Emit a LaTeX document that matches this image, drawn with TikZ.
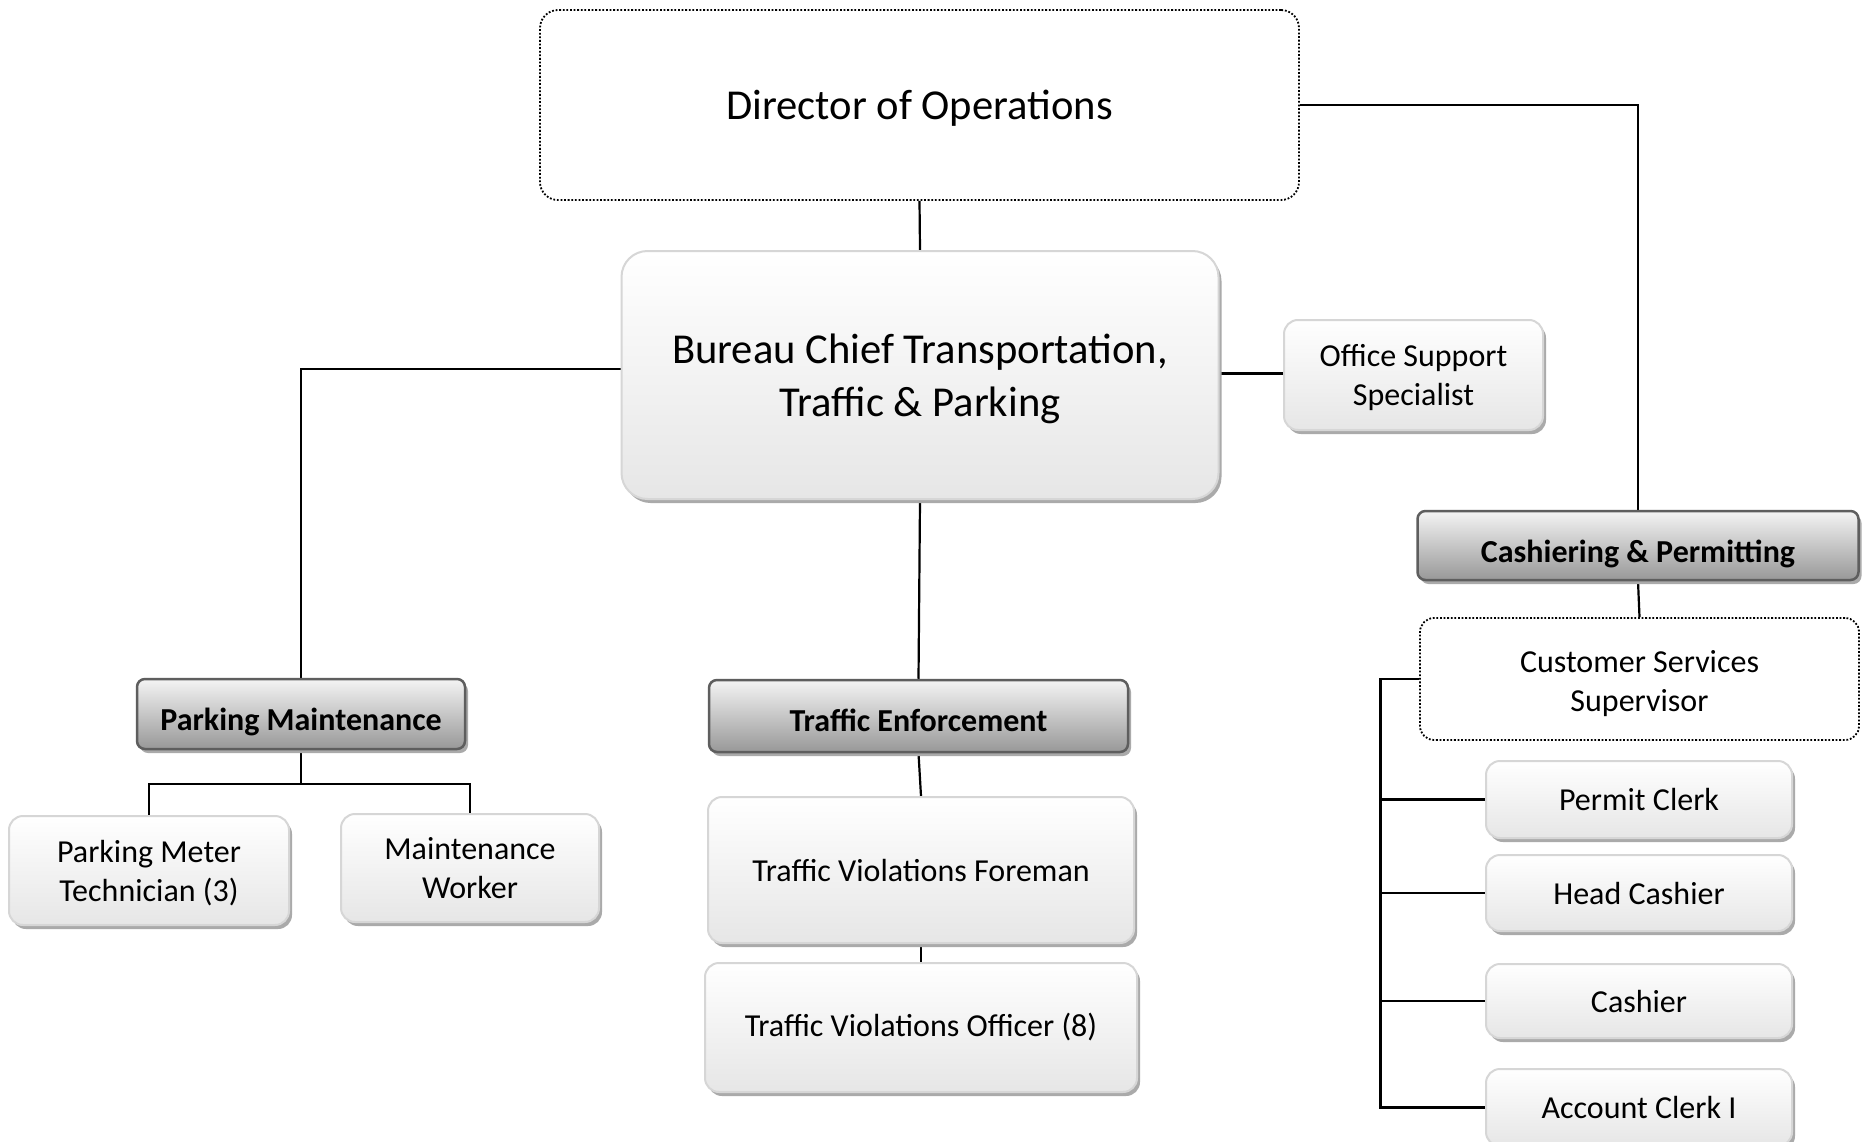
\documentclass[tikz,border=0pt]{standalone}
\usepackage{fontspec}
\setmainfont{Carlito}
\usetikzlibrary{shadows,backgrounds}

\definecolor{boxedge}{HTML}{D6D6D6}
\definecolor{boxlow}{HTML}{E6E6E6}
\definecolor{headedge}{HTML}{5E5E5E}
\definecolor{headtop}{HTML}{F4F4F4}
\definecolor{headlow}{HTML}{989898}
\definecolor{shade}{HTML}{AAAAAA}

% lower a line of text inside its box without changing the box size
\newcommand{\shiftdown}[2]{\raisebox{-#1}[\height][\depth]{#2}}

\tikzset{
  base/.style={inner sep=0pt, align=center, text=black},
  shadowed/.style={drop shadow={shadow xshift=3pt, shadow yshift=-4pt, fill=shade, opacity=1}},
  plainbox/.style={base, shadowed, draw=boxedge, line width=2pt,
    top color=white, bottom color=boxlow, rounded corners=14pt,
    font=\fontsize{32}{39}\selectfont},
  headbox/.style={base, shadowed, draw=headedge, line width=2.5pt,
    top color=headtop, bottom color=headlow, rounded corners=8pt,
    font=\fontsize{32}{39}\selectfont\bfseries},
  dotbox/.style={base, draw=black, fill=white, line width=1.8pt,
    dash pattern=on 1.8pt off 1.8pt, rounded corners=18pt},
  bigtext/.style={font=\fontsize{42.6}{53}\selectfont},
  link/.style={draw=black, line width=2.2pt},
}

\begin{document}
\begin{tikzpicture}[x=1pt, y=-1pt]
\useasboundingbox (0,0) rectangle (1871,1142);

% top level
\node[dotbox, bigtext, minimum width=759pt, minimum height=190pt] (dir) at (919.5,105)
      {\shiftdown{3.6pt}{Director of Operations}};
\node[plainbox, bigtext, rounded corners=26pt, minimum width=597pt, minimum height=248pt] (chief) at (920,375)
      {\shiftdown{3.6pt}{Bureau Chief Transportation,}\\\shiftdown{3.6pt}{Traffic \& Parking}};
\node[plainbox, minimum width=259pt, minimum height=110pt] (oss) at (1413.5,375)
      {\shiftdown{2.4pt}{Office Support}\\\shiftdown{2.4pt}{Specialist}};

% parking maintenance branch
\node[headbox, minimum width=328pt, minimum height=70pt] (pm) at (301,714)
      {\shiftdown{8.4pt}{Parking Maintenance}};
\node[plainbox, minimum width=280pt, minimum height=109pt] (pmt) at (149,870.5)
      {\shiftdown{3pt}{Parking Meter}\\\shiftdown{3pt}{Technician (3)}};
\node[plainbox, minimum width=258pt, minimum height=108pt] (mw) at (470,868)
      {Maintenance\\Worker};

% traffic enforcement branch
\node[headbox, minimum width=419pt, minimum height=72pt] (te) at (918.5,716)
      {\shiftdown{4.8pt}{Traffic Enforcement}};
\node[plainbox, minimum width=426pt, minimum height=146pt] (tvf) at (921,870)
      {Traffic Violations Foreman};
\node[plainbox, minimum width=432pt, minimum height=129pt] (tvo) at (921,1027.5)
      {Traffic Violations Officer (8)};

% cashiering branch
\node[headbox, minimum width=441pt, minimum height=69pt] (cp) at (1638,545.5)
      {\shiftdown{8.4pt}{Cashiering \& Permitting}};
\node[dotbox, rounded corners=14pt, minimum width=439pt, minimum height=122pt,
      font=\fontsize{32}{39}\selectfont] (css) at (1639.5,679)
      {\shiftdown{4.8pt}{Customer Services}\\\shiftdown{4.8pt}{Supervisor}};
\node[plainbox, minimum width=306pt, minimum height=77pt] (perm) at (1639,799.5) {Permit Clerk};
\node[plainbox, minimum width=306pt, minimum height=76pt] (head) at (1639,893) {Head Cashier};
\node[plainbox, minimum width=306pt, minimum height=74pt] (cash) at (1639,1001) {Cashier};
\node[plainbox, minimum width=306pt, minimum height=77pt] (acct) at (1639,1107.5) {Account Clerk I};

\coordinate (pmbus) at (301,784);
\coordinate (cssbus) at (1380.5,679);

\begin{scope}[on background layer]
  \fill[white] (0,0) rectangle (1871,1142);
  \draw[link] (dir.south) -- (chief.north);
  \draw[link] (dir.east) -| (cp.north);
  \draw[link] ([yshift=1.5pt]chief.east) -- ([yshift=1.5pt]chief.east -| oss.west);
  \draw[link] ([yshift=6pt]chief.west) -| (pm.north);
  \draw[link] (chief.south) -- (te.north);
  \draw[link] (pm.south) -- (pmbus);
  \draw[link] (pmbus) -| (pmt.north);
  \draw[link] (pmbus) -| (mw.north);
  \draw[link] (te.south) -- (tvf.north);
  \draw[link] (tvf.south) -- (tvo.north);
  \draw[link] (cp.south) -- (css.north);
  \draw[link] (css.west) -- (cssbus) |- (acct.west);
  \draw[link] (cssbus |- perm.west) -- (perm.west);
  \draw[link] (cssbus |- head.west) -- (head.west);
  \draw[link] (cssbus |- cash.west) -- (cash.west);
\end{scope}
\end{tikzpicture}
\end{document}
